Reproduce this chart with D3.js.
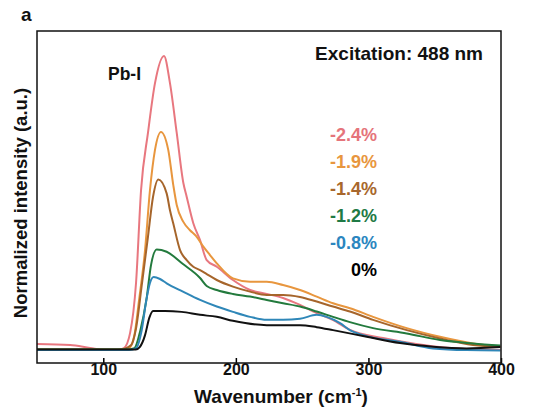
<!DOCTYPE html>
<html>
<head>
<meta charset="utf-8">
<script src="https://cdn.jsdelivr.net/npm/d3@7"></script>
<style>
  body { margin: 0; background: #fff; }
  svg text { font-family: "Liberation Sans", Arial, sans-serif; font-weight: bold; }
</style>
</head>
<body>
<div id="chart"></div>
<script>
// strain labels and line colours, most compressive first
var strainLabels = ["-2.4%", "-1.9%", "-1.4%", "-1.2%", "-0.8%", "0%"];
var lineColors = ["#e8777f", "#e8963e", "#a6652b", "#237a3d", "#2f87b8", "#111111"];
var labelColors = ["#e5747b", "#e8963e", "#a8672c", "#1f7a45", "#2b86bf", "#000000"];

// wavenumber (cm-1) and normalized intensity
var wn24 = [50, 75, 90, 101, 111, 115.6, 120.2, 124.7, 128.5, 133.7, 139, 145.8, 150.3, 155.4, 160.4, 162.9, 167.9, 173, 178, 185.6, 197.8, 210.7, 223.3, 235.6, 248.4, 261, 273, 286, 311, 336, 361.5, 399.5];
var int24 = [5.7, 5.4, 4.5, 3.9, 3.9, 4.5, 9.0, 24.1, 52.1, 69.3, 84.3, 92.5, 84.3, 69.3, 54.2, 50.1, 42.1, 37, 31, 29, 25, 22, 20.8, 19.6, 17.5, 15, 13, 10, 7.5, 5.7, 4.5, 3.9];

var wn19 = [50, 111, 119.5, 123.5, 127, 131.5, 135.2, 139, 143.5, 149, 152.8, 155.4, 160.4, 165.4, 169.9, 175.2, 180.5, 185.6, 197.8, 210.7, 223.3, 235.6, 248.4, 261, 273.3, 286.1, 303.5, 328.9, 354, 378.9, 399.5];
var int19 = [4.07, 4.07, 4.5, 8.4, 19, 34, 52, 64.2, 69.6, 64.2, 53.6, 47.6, 42.5, 40, 38.3, 35.2, 32.5, 30, 25.5, 24.5, 24.5, 23.5, 22, 20, 18, 16.5, 13.9, 10.5, 7.9, 5.9, 5.0];

var wn14 = [50, 113.5, 121, 124.5, 129.2, 133.7, 137.5, 141.5, 147.8, 150.3, 152.8, 157.9, 162.9, 167.9, 173, 178, 185.6, 197.8, 210.7, 223.3, 235.6, 248.4, 261, 273.3, 286, 303.5, 328.9, 354, 378.9, 399.5];
var int14 = [4.07, 4.07, 5.4, 10, 24, 38, 50, 55.3, 51.1, 46, 42, 34, 31, 29, 28, 26.8, 25, 23, 21.5, 20.5, 20.5, 19.9, 18.5, 17, 15.5, 13, 9.9, 7.4, 5.4, 4.8];

var wn12 = [50, 118, 123.5, 128, 132.5, 136, 140.3, 147.8, 160.1, 173, 178, 185.6, 197.8, 210.7, 223.3, 235.6, 248.4, 261, 273.3, 286, 303.5, 328.9, 354, 378.9, 399.5];
var int12 = [4.07, 4.07, 4.5, 9.9, 19, 29.5, 34.2, 33.5, 29.8, 25.6, 23.2, 22, 20.8, 20, 19, 18, 17, 15.5, 13.9, 12.3, 10.5, 8.9, 6.9, 5.9, 5.3];

var wn08 = [50, 119.5, 124.8, 129, 132.5, 135.2, 138, 142.8, 147.8, 160.1, 173, 185.6, 197.8, 210.7, 223.3, 235.6, 248.4, 261, 268.5, 278.6, 286, 298.7, 323.8, 348.7, 374.1, 399.5];
var int08 = [3.9, 3.9, 4.5, 9.9, 19, 24.1, 25.9, 25.3, 24, 21.5, 19, 17, 15.4, 13.9, 13, 13, 13.3, 14.5, 13.9, 12, 9.9, 8.1, 6.4, 4.4, 3.9, 3.8];

var wn00 = [50, 124.5, 127.5, 131.5, 134.7, 137.5, 146.6, 159.1, 173, 185.6, 197.8, 223.3, 248.4, 261, 273.3, 298.7, 323.8, 348.7, 374.1, 399.5];
var int00 = [4.07, 4.07, 4.8, 8.4, 13.6, 15.7, 15.7, 15.4, 14.5, 13.9, 12.7, 11.4, 11.4, 10.8, 9.9, 7.9, 6.0, 4.9, 4.4, 4.8];

var xTicks = [100, 200, 300, 400];

var allWn = [wn24, wn19, wn14, wn12, wn08, wn00];
var allInt = [int24, int19, int14, int12, int08, int00];

var width = 533, height = 416;
var margin = {left: 37, right: 32, top: 31, bottom: 53};
var plotW = width - margin.left - margin.right;
var plotH = height - margin.top - margin.bottom;

var svg = d3.select("#chart").append("svg")
  .attr("width", width)
  .attr("height", height);

var x = d3.scaleLinear().domain([50, 400]).range([0, plotW]);
var y = d3.scaleLinear().domain([0, 100]).range([plotH, 0]);

var g = svg.append("g")
  .attr("transform", "translate(" + margin.left + "," + margin.top + ")");

g.append("clipPath").attr("id", "clip")
  .append("rect").attr("width", plotW).attr("height", plotH);

var line = d3.line()
  .x(function(d) { return x(d[0]); })
  .y(function(d) { return y(d[1]); })
  .curve(d3.curveMonotoneX);

// draw pink first, black last so black sits on top
var curves = g.append("g").attr("clip-path", "url(#clip)");
allWn.forEach(function(wn, i) {
  var pts = wn.map(function(w, j) { return [w, allInt[i][j]]; });
  curves.append("path")
    .datum(pts)
    .attr("d", line)
    .attr("fill", "none")
    .attr("stroke", lineColors[i])
    .attr("stroke-width", 2)
    .attr("stroke-linejoin", "round");
});

// bottom axis, ticks pointing inward
var xAxis = g.append("g")
  .attr("transform", "translate(0," + plotH + ")")
  .call(d3.axisBottom(x).tickValues(xTicks).tickSize(-5).tickPadding(1).tickFormat(d3.format("d")));
xAxis.select(".domain").remove();
xAxis.selectAll("line").attr("stroke", "#000").attr("stroke-width", 1.5);
xAxis.selectAll("text").attr("font-size", 16).attr("fill", "#111");

// frame
g.append("rect")
  .attr("width", plotW)
  .attr("height", plotH)
  .attr("fill", "none")
  .attr("stroke", "#111")
  .attr("stroke-width", 1.5);

// x title with superscript
var xt = svg.append("text")
  .attr("x", margin.left + plotW / 2 + 12)
  .attr("y", 403)
  .attr("text-anchor", "middle")
  .attr("font-size", 19)
  .attr("fill", "#111");
xt.append("tspan").text("Wavenumber (cm");
xt.append("tspan").attr("dy", -7).attr("font-size", 11).text("-1");
xt.append("tspan").attr("dy", 7).text(")");

// y title
svg.append("text")
  .attr("transform", "translate(27," + (margin.top + plotH / 2 + 6) + ") rotate(-90)")
  .attr("text-anchor", "middle")
  .attr("font-size", 18.5)
  .attr("fill", "#111")
  .text("Normalized intensity (a.u.)");

// panel letter
svg.append("text")
  .attr("x", 21).attr("y", 21)
  .attr("font-size", 19)
  .attr("fill", "#111")
  .text("a");

svg.append("text")
  .attr("x", 483).attr("y", 60)
  .attr("text-anchor", "end")
  .attr("font-size", 19)
  .attr("fill", "#111")
  .text("Excitation: 488 nm");

svg.append("text")
  .attr("x", 108).attr("y", 80)
  .attr("font-size", 17.5)
  .attr("fill", "#111")
  .text("Pb-I");

// strain labels
svg.selectAll(".strain")
  .data(strainLabels)
  .enter()
  .append("text")
  .attr("class", "strain")
  .attr("x", 377)
  .attr("y", function(d, i) { return 141 + i * 27; })
  .attr("text-anchor", "end")
  .attr("font-size", 18)
  .attr("fill", function(d, i) { return labelColors[i]; })
  .text(function(d) { return d; });
</script>
</body>
</html>
